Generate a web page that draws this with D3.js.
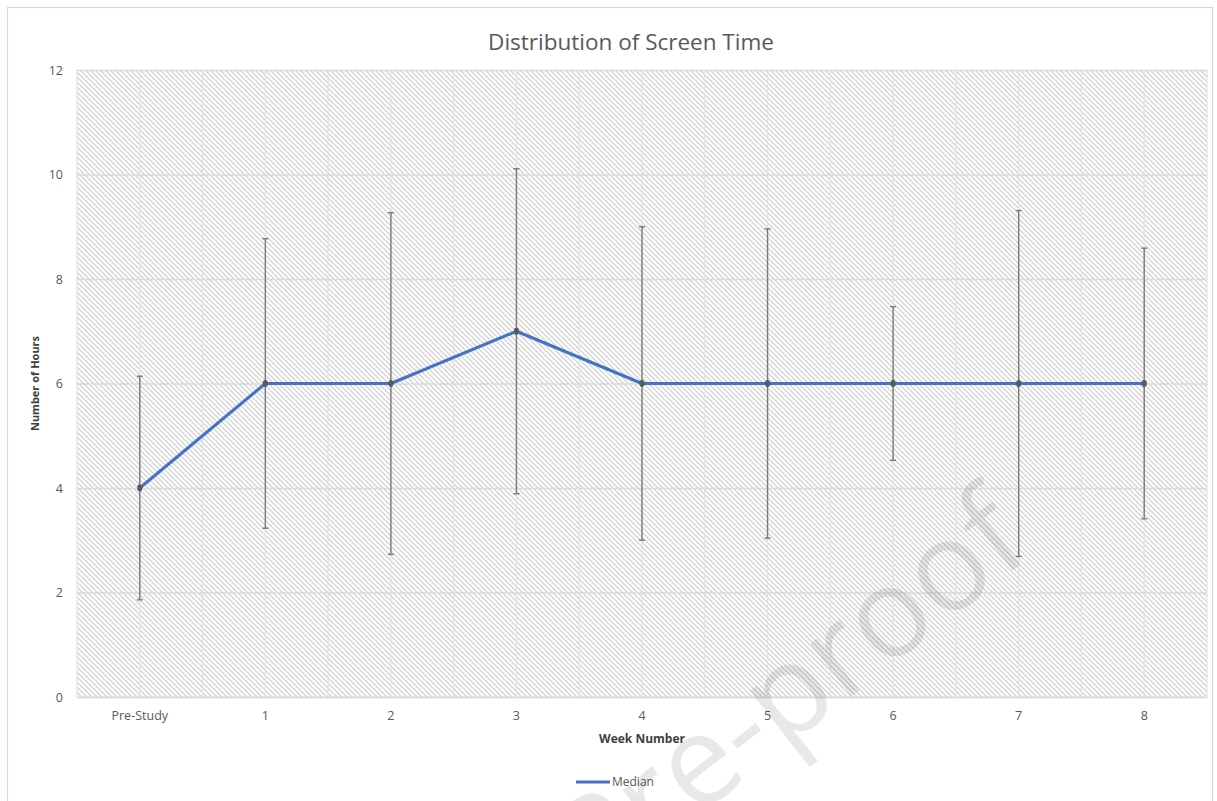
<!DOCTYPE html>
<html>
<head>
<meta charset="utf-8">
<script src="https://cdn.jsdelivr.net/npm/d3@7"></script>
<style>
  html, body { margin: 0; padding: 0; background: #fff; }
  svg text { font-family: "Open Sans", "Liberation Sans", sans-serif; }
</style>
</head>
<body>
<svg id="chart" width="1217" height="801"></svg>
<script>
// Weekly screen-time medians with their spread
const categories = ["Pre-Study", "1", "2", "3", "4", "5", "6", "7", "8"];
const medianHours = [4, 6, 6, 7, 6, 6, 6, 6, 6];
const spreadHours = [2.14, 2.77, 3.27, 3.11, 3.0, 2.96, 1.47, 3.31, 2.59];
const yTicks = [0, 2, 4, 6, 8, 10, 12];

const svg = d3.select("#chart");
const plot = { left: 77, right: 1207, top: 70, bottom: 697 };

// Outer chart frame
svg.append("rect")
  .attr("x", 7.5).attr("y", 7.5)
  .attr("width", 1205).attr("height", 820)
  .attr("fill", "#fff").attr("stroke", "#d9d9d9").attr("stroke-width", 1.2);

// Downward diagonal hatch used as the plot background
const defs = svg.append("defs");
const pat = defs.append("pattern")
  .attr("id", "hatch")
  .attr("patternUnits", "userSpaceOnUse")
  .attr("width", 5).attr("height", 5);
pat.append("rect").attr("width", 5).attr("height", 5).attr("fill", "#fff");
pat.append("path")
  .attr("d", "M-1,-1 L6,6 M-1,4 L1,6 M4,-1 L6,1")
  .attr("stroke", "#d6d6d6").attr("stroke-width", 1.5);

const x = d3.scaleBand()
  .domain(categories)
  .range([plot.left, plot.right])
  .padding(0);
const y = d3.scaleLinear()
  .domain([0, 12])
  .range([plot.bottom, plot.top]);
const cx = d => x(d) + x.bandwidth() / 2;

svg.append("rect")
  .attr("x", plot.left).attr("y", plot.top)
  .attr("width", plot.right - plot.left)
  .attr("height", plot.bottom - plot.top)
  .attr("fill", "url(#hatch)");

// Vertical gridlines at category centres and boundaries
const vLines = [];
categories.forEach(c => { vLines.push(x(c)); vLines.push(cx(c)); });
vLines.push(plot.right);
svg.append("g").selectAll("line").data(vLines).join("line")
  .attr("x1", d => d).attr("x2", d => d)
  .attr("y1", plot.top).attr("y2", plot.bottom)
  .attr("stroke", "#e3e3e3").attr("stroke-width", 1.2);

// Horizontal gridlines + y tick labels via a left axis
const yAxis = svg.append("g")
  .attr("transform", `translate(${plot.left},0)`)
  .call(d3.axisLeft(y).tickValues(yTicks).tickSize(-(plot.right - plot.left)).tickPadding(14));
yAxis.select(".domain").remove();
yAxis.selectAll(".tick line").attr("stroke", "#dadada").attr("stroke-width", 1.3);
yAxis.selectAll(".tick text")
  .attr("fill", "#595959").attr("font-size", 12.5)
  .style("font-family", "'Open Sans', sans-serif");

// X axis labels
const xAxis = svg.append("g")
  .attr("transform", `translate(0,${plot.bottom})`)
  .call(d3.axisBottom(x).tickSize(0).tickPadding(14));
xAxis.select(".domain").attr("stroke", "#d9d9d9").attr("stroke-width", 1.5);
xAxis.selectAll(".tick text")
  .attr("fill", "#595959").attr("font-size", 12.5)
  .style("font-family", "'Open Sans', sans-serif");

// Error bars
const eb = svg.append("g").attr("stroke", "#7a7a7a").attr("stroke-width", 1.4);
categories.forEach((c, i) => {
  const lo = y(medianHours[i] - spreadHours[i]);
  const hi = y(medianHours[i] + spreadHours[i]);
  const px = cx(c);
  eb.append("line").attr("x1", px).attr("x2", px).attr("y1", hi).attr("y2", lo);
  eb.append("line").attr("x1", px - 3).attr("x2", px + 3).attr("y1", hi).attr("y2", hi);
  eb.append("line").attr("x1", px - 3).attr("x2", px + 3).attr("y1", lo).attr("y2", lo);
});

// Median line
const line = d3.line()
  .x((d, i) => cx(categories[i]))
  .y(d => y(d));
svg.append("path")
  .datum(medianHours)
  .attr("d", line)
  .attr("fill", "none")
  .attr("stroke", "#4472c4")
  .attr("stroke-width", 3)
  .attr("stroke-linejoin", "round");

svg.append("g").selectAll("ellipse").data(medianHours).join("ellipse")
  .attr("cx", (d, i) => cx(categories[i]))
  .attr("cy", d => y(d))
  .attr("rx", 2.6).attr("ry", 3.4)
  .attr("fill", "#5a5a5a");

// Title and axis titles
svg.append("text")
  .attr("x", 631).attr("y", 50)
  .attr("text-anchor", "middle")
  .attr("font-size", 22.5).attr("fill", "#595959")
  .text("Distribution of Screen Time");

svg.append("text")
  .attr("x", (plot.left + plot.right) / 2).attr("y", 743)
  .attr("text-anchor", "middle")
  .attr("font-size", 12).attr("font-weight", "bold").attr("fill", "#404040")
  .text("Week Number");

svg.append("text")
  .attr("transform", `translate(39,${(plot.top + plot.bottom) / 2}) rotate(-90)`)
  .attr("text-anchor", "middle")
  .attr("font-size", 11).attr("font-weight", "bold").attr("fill", "#404040")
  .text("Number of Hours");

// Legend
svg.append("line")
  .attr("x1", 576).attr("x2", 610).attr("y1", 782).attr("y2", 782)
  .attr("stroke", "#4472c4").attr("stroke-width", 3);
svg.append("text")
  .attr("x", 612).attr("y", 786)
  .attr("font-size", 12).attr("fill", "#595959")
  .text("Median");

// Watermark running off the lower edge
svg.append("text")
  .attr("transform", "translate(1035,553) rotate(-38)")
  .attr("text-anchor", "end")
  .attr("font-size", 125)
  .attr("fill", "#000").attr("fill-opacity", 0.09)
  .text("Journal Pre-proof");
</script>
</body>
</html>
